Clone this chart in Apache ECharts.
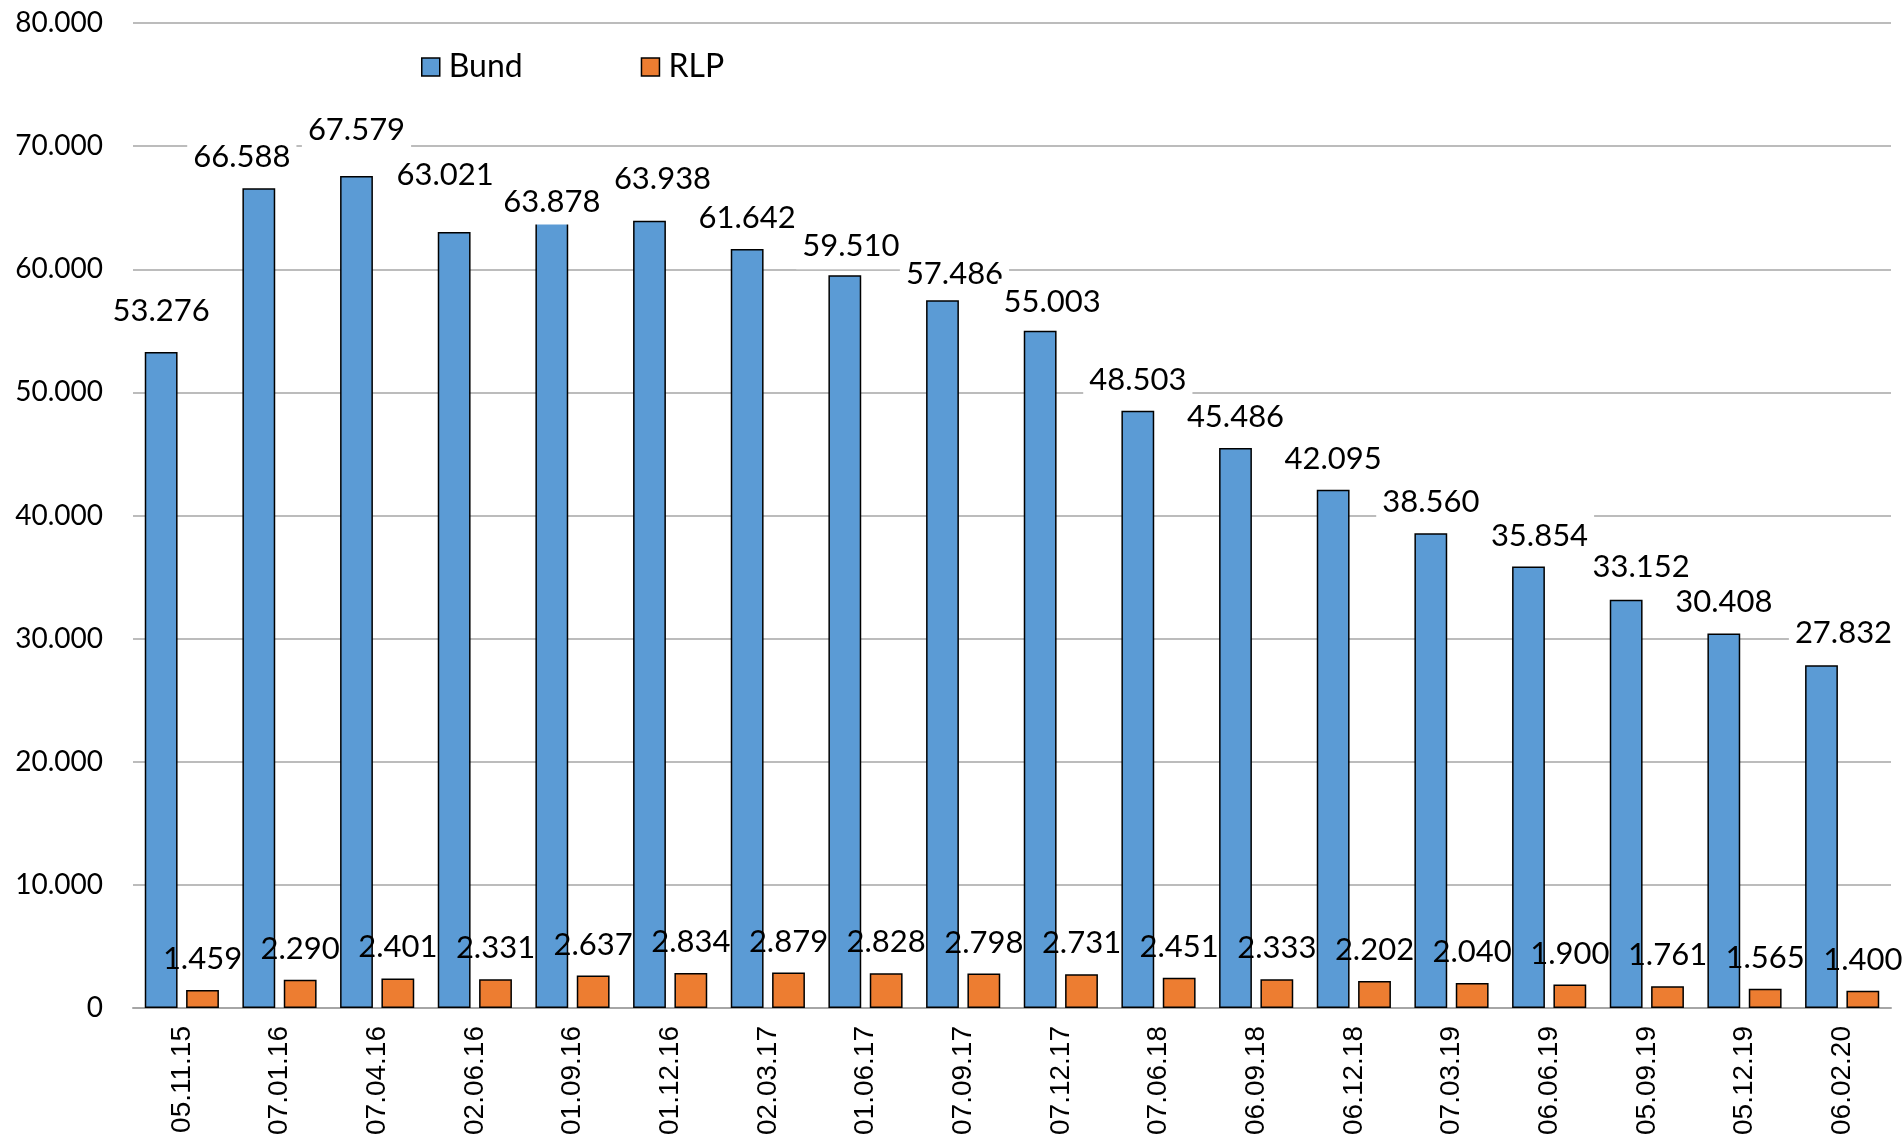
<!DOCTYPE html>
<html>
<head>
<meta charset="utf-8">
<script src="https://cdn.jsdelivr.net/npm/echarts@6/dist/echarts.min.js"></script>
<style>
html,body{margin:0;padding:0;background:#fff;}
#c{width:1903px;height:1146px;}
</style>
</head>
<body>
<div id="c"></div>
<script>
const categories = ['05.11.15','07.01.16','07.04.16','02.06.16','01.09.16','01.12.16','02.03.17','01.06.17','07.09.17','07.12.17','07.06.18','06.09.18','06.12.18','07.03.19','06.06.19','05.09.19','05.12.19','06.02.20'];
const bund = [53276,66588,67579,63021,63878,63938,61642,59510,57486,55003,48503,45486,42095,38560,35854,33152,30408,27832];
const rlp = [1459,2290,2401,2331,2637,2834,2879,2828,2798,2731,2451,2333,2202,2040,1900,1761,1565,1400];
const yTicks = {min:0, max:80000, interval:10000};
// label nudges (styling only) for Bund labels: [dx, dy]
const labelNudge = [[0,-10],[-17,0],[0,-15],[-9,-26],[0,11],[13,-11],[0,0],[6,2],[12,5],[12,2],[0,0],[0,0],[0,0],[0,0],[11,0],[15,-2],[0,-1],[22,-1]];

const fmt = v => v === 0 ? '0' : (v/1000).toFixed(3);
const chart = echarts.init(document.getElementById('c'));
const bundData = bund.map((v,i)=>({value:v,label:{offset:labelNudge[i]}}));
chart.setOption({
  animation:false,
  backgroundColor:'#fff',
  legend:{
    left:416, top:46, itemWidth:18, itemHeight:18, itemGap:118, icon:'rect',
    textStyle:{fontFamily:'Lato', fontSize:32, color:'#000', padding:[0,0,0,4]},
    data:[{name:'Bund', itemStyle:{borderColor:'#000',borderWidth:1.5}},{name:'RLP', itemStyle:{borderColor:'#000',borderWidth:1.5}}]
  },
  grid:{left:133, right:12, top:23, bottom:138},
  xAxis:{
    type:'category', data:categories,
    axisLine:{lineStyle:{color:'#A6A6A6', width:2}},
    axisTick:{show:false},
    axisLabel:{rotate:90, fontFamily:'Liberation Sans', fontSize:28, color:'#000', margin:18, interval:0}
  },
  yAxis:{
    type:'value', min:yTicks.min, max:yTicks.max, interval:yTicks.interval,
    axisLine:{show:false}, axisTick:{show:false},
    splitLine:{lineStyle:{color:'#A6A6A6', width:1.5}},
    axisLabel:{formatter:fmt, fontFamily:'Lato', fontSize:28, color:'#000', margin:30}
  },
  series:[
    {name:'Bund', type:'bar', data:bundData, barWidth:'33.6%', barGap:'26%',
     itemStyle:{color:'#5B9BD5', borderColor:'#000', borderWidth:1.5},
     label:{show:true, position:'top', distance:8, formatter:p=>fmt(p.value), fontFamily:'Lato', fontSize:31, color:'#000',
            backgroundColor:'#fff', padding:[6,6,6,6], lineHeight:34}},
    {name:'RLP', type:'bar', data:rlp, barWidth:'33.6%', barGap:'26%',
     itemStyle:{color:'#ED7D31', borderColor:'#000', borderWidth:1.5},
     label:{show:true, position:'top', distance:14, formatter:p=>fmt(p.value), fontFamily:'Lato', fontSize:31, color:'#000', lineHeight:34}}
  ]
});
</script>
</body>
</html>
